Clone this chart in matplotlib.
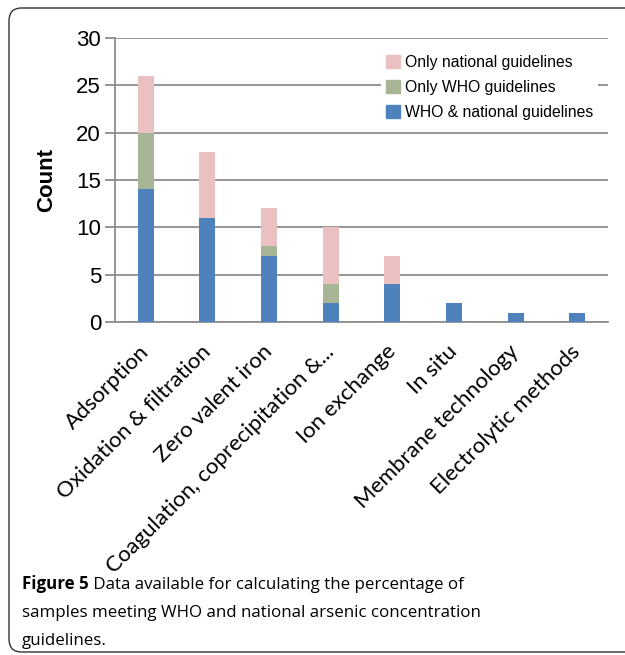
import matplotlib
matplotlib.use('Agg')
import matplotlib.pyplot as plt
import numpy as np
from matplotlib.patches import FancyBboxPatch, Patch

# arsenic removal technology categories
categories = ['Adsorption', 'Oxidation & filtration', 'Zero valent iron',
              'Coagulation, coprecipitation &...', 'Ion exchange', 'In situ',
              'Membrane technology', 'Electrolytic methods']
who_and_national = [14, 11, 7, 2, 4, 2, 1, 1]
only_who = [6, 0, 1, 2, 0, 0, 0, 0]
only_national = [6, 7, 4, 6, 3, 0, 0, 0]
series_names = ['WHO & national guidelines', 'Only WHO guidelines', 'Only national guidelines']
yticks = [0, 5, 10, 15, 20, 25, 30]

BLUE = '#4F81BD'
GREEN = '#A7B495'
PINK = '#EBC0C1'
GRID = '#8E8E8E'

fig = plt.figure(figsize=(6.25, 6.55), dpi=100)

# rounded frame around the panel, right edge runs off the page
frame = FancyBboxPatch((9 / 625, 3 / 655), 680 / 625, 644 / 655,
                       boxstyle='round,pad=0,rounding_size=0.02',
                       transform=fig.transFigure, facecolor='none',
                       edgecolor='#333333', linewidth=1.0)
fig.patches.append(frame)

ax = fig.add_axes([115 / 625, 1 - 322 / 655, 493 / 625, 284 / 655])

x = np.arange(len(categories))
w = 0.26
b1 = np.array(who_and_national)
b2 = b1 + np.array(only_who)
ax.bar(x, who_and_national, w, color=BLUE, zorder=3)
ax.bar(x, only_who, w, bottom=b1, color=GREEN, zorder=3)
ax.bar(x, only_national, w, bottom=b2, color=PINK, zorder=3)

ax.set_xlim(-0.5, len(categories) - 0.5)
ax.set_ylim(0, 30)
ax.set_yticks(yticks)
ax.yaxis.grid(True, color=GRID, linewidth=1.3, zorder=0)
ax.set_axisbelow(True)
for s in ['top', 'right']:
    ax.spines[s].set_visible(False)
for s in ['left', 'bottom']:
    ax.spines[s].set_color(GRID)
    ax.spines[s].set_linewidth(1.3)
ax.tick_params(axis='y', length=7, width=1.3, color=GRID, pad=3,
               labelsize=16)
for lab in ax.get_yticklabels():
    lab.set_fontfamily('Liberation Sans')
ax.set_ylabel('Count', fontsize=16, fontweight='bold',
              fontfamily='Liberation Sans', labelpad=14)

ax.set_xticks(x)
ax.set_xticklabels(categories, rotation=45, ha='right', va='center',
                   rotation_mode='anchor', fontsize=16, fontfamily='Lato')
ax.tick_params(axis='x', length=0, pad=19)

handles = [Patch(color=PINK), Patch(color=GREEN), Patch(color=BLUE)]
leg = ax.legend(handles, series_names[::-1], loc='upper right',
                bbox_to_anchor=(0.995, 0.985), frameon=True, fancybox=False,
                framealpha=1, edgecolor='none', facecolor='white',
                prop={'family': 'Liberation Sans', 'size': 11.3},
                handlelength=0.9, handleheight=0.9, handletextpad=0.3,
                labelspacing=0.65, borderpad=0.3)
leg.set_zorder(5)

# caption, bold figure number followed by regular text
cap = {'family': 'Open Sans', 'size': 12.2}
t1 = fig.text(22 / 625, 1 - 589 / 655, 'Figure 5', fontweight='bold',
              va='baseline', **cap)
ax.annotate(' Data available for calculating the percentage of',
            xy=(1, 0), xycoords=t1, va='bottom', ha='left',
            annotation_clip=False, **cap)
fig.text(22 / 625, 1 - 617 / 655,
         'samples meeting WHO and national arsenic concentration',
         va='baseline', **cap)
fig.text(22 / 625, 1 - 645 / 655, 'guidelines.', va='baseline', **cap)

fig.savefig('out.png', dpi=100)
